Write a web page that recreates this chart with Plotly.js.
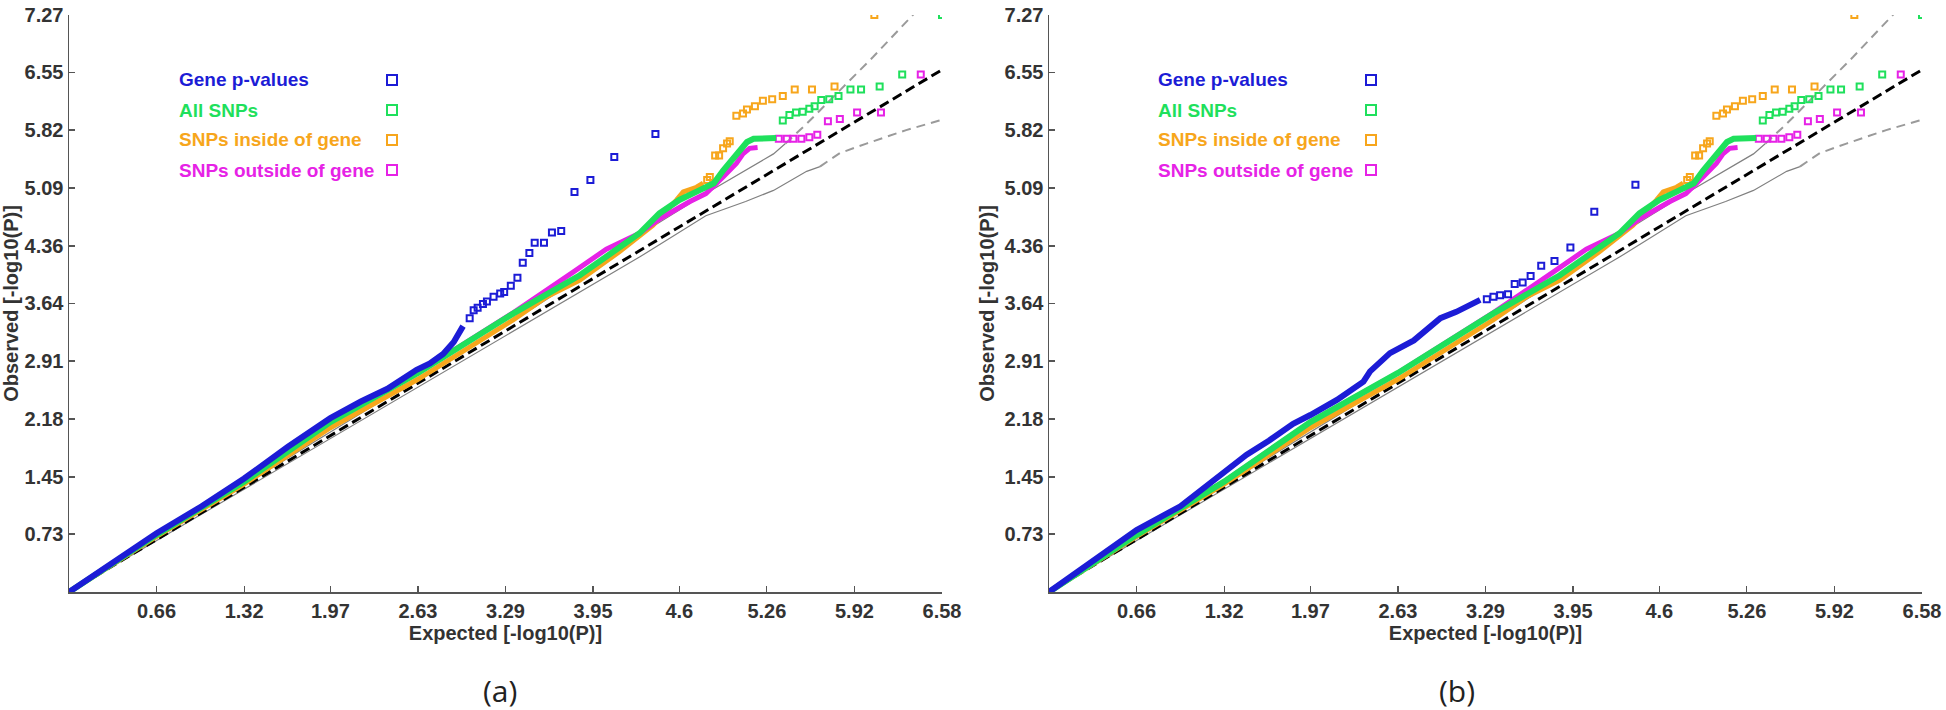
<!DOCTYPE html>
<html>
<head>
<meta charset="utf-8">
<script src="https://cdn.plot.ly/plotly-3.0.1.min.js"></script>
<style>html,body{margin:0;padding:0;background:#fff;}#chart{width:1946px;height:710px;}</style>
</head>
<body>
<div id="chart"></div>
<script>
// ---------- tick labels ----------
const xTickVals = [0.66, 1.32, 1.97, 2.63, 3.29, 3.95, 4.6, 5.26, 5.92, 6.58];
const xTickText = ['0.66', '1.32', '1.97', '2.63', '3.29', '3.95', '4.6', '5.26', '5.92', '6.58'];
const yTickVals = [0.73, 1.45, 2.18, 2.91, 3.64, 4.36, 5.09, 5.82, 6.55, 7.27];
const yTickText = ['0.73', '1.45', '2.18', '2.91', '3.64', '4.36', '5.09', '5.82', '6.55', '7.27'];

// ---------- series names ----------
const seriesNames = ['Gene p-values', 'All SNPs', 'SNPs inside of gene', 'SNPs outside of gene'];
const panelLabels = ['(a)', '(b)'];

// ---------- reference lines ----------
const diagX = [0, 6.58];
const diagY = [0, 6.58];
const ciUpperSolidX = [0, 1, 2, 3, 3.5, 4, 4.3, 4.8, 5.06, 5.31, 5.4];
const ciUpperSolidY = [0, 1.02, 2.04, 3.06, 3.58, 4.12, 4.5, 5.02, 5.27, 5.52, 5.65];
const ciUpperDashX = [5.4, 5.56, 5.81, 6.06, 6.45];
const ciUpperDashY = [5.65, 5.9, 6.32, 6.74, 7.43];
const ciLowerSolidX = [0, 1, 2, 3, 3.5, 4, 4.3, 4.8, 5.1, 5.31, 5.45, 5.56, 5.66];
const ciLowerSolidY = [0, 0.98, 1.96, 2.94, 3.43, 3.92, 4.22, 4.74, 4.92, 5.06, 5.2, 5.3, 5.36];
const ciLowerDashX = [5.66, 5.81, 6.01, 6.31, 6.56, 6.74];
const ciLowerDashY = [5.36, 5.53, 5.65, 5.82, 5.94, 6.01];

// ---------- Gene p-values, panel (a) ----------
const geneA_denseX = [0, 0.33, 0.66, 1.0, 1.32, 1.65, 1.97, 2.2, 2.4, 2.62, 2.72, 2.82, 2.9, 2.97];
const geneA_denseY = [0, 0.37, 0.74, 1.08, 1.43, 1.83, 2.19, 2.4, 2.56, 2.8, 2.88, 3.0, 3.15, 3.35];
const geneA_tailX = [3.02, 3.05, 3.08, 3.12, 3.15, 3.2, 3.25, 3.28, 3.33, 3.38, 3.42, 3.47, 3.51, 3.58, 3.64, 3.71, 3.81, 3.93, 4.11, 4.42];
const geneA_tailY = [3.45, 3.55, 3.58, 3.63, 3.66, 3.72, 3.76, 3.78, 3.86, 3.96, 4.15, 4.27, 4.4, 4.4, 4.53, 4.55, 5.04, 5.19, 5.48, 5.77];

// ---------- Gene p-values, panel (b) ----------
const geneB_denseX = [0, 0.33, 0.66, 0.99, 1.32, 1.49, 1.66, 1.84, 1.97, 2.17, 2.37, 2.42, 2.57, 2.75, 2.95, 3.07, 3.25];
const geneB_denseY = [0, 0.39, 0.78, 1.08, 1.5, 1.73, 1.91, 2.12, 2.23, 2.42, 2.65, 2.78, 3.01, 3.17, 3.45, 3.53, 3.68];
const geneB_tailX = [3.3, 3.35, 3.4, 3.46, 3.51, 3.57, 3.63, 3.71, 3.81, 3.93, 4.11, 4.42];
const geneB_tailY = [3.69, 3.72, 3.74, 3.75, 3.88, 3.9, 3.98, 4.11, 4.17, 4.34, 4.79, 5.13];

// ---------- All SNPs ----------
const allSnp_denseX = [0, 0.66, 1.32, 1.59, 1.97, 2.63, 2.8, 3.35, 3.85, 4.1, 4.3, 4.45, 4.6, 4.75, 4.86, 4.93, 5.01, 5.06, 5.11, 5.16, 5.33];
const allSnp_denseY = [0, 0.72, 1.39, 1.7, 2.14, 2.76, 2.94, 3.51, 3.99, 4.29, 4.52, 4.77, 4.94, 5.06, 5.15, 5.31, 5.48, 5.59, 5.67, 5.71, 5.72];
const allSnp_tailX = [5.38, 5.43, 5.48, 5.53, 5.58, 5.62, 5.67, 5.73, 5.8, 5.89, 5.97, 6.11, 6.28, 6.58];
const allSnp_tailY = [5.94, 6.01, 6.04, 6.05, 6.09, 6.12, 6.2, 6.21, 6.25, 6.33, 6.33, 6.37, 6.52, 7.27];

// ---------- SNPs inside of gene ----------
const inSnp_denseX = [0, 0.66, 1.32, 1.97, 2.63, 3.35, 3.6, 3.85, 4.15, 4.4, 4.58, 4.63, 4.73, 4.78];
const inSnp_denseY = [0, 0.7, 1.36, 2.07, 2.68, 3.43, 3.72, 3.93, 4.29, 4.62, 4.94, 5.04, 5.1, 5.15];
const inSnp_tailX = [4.81, 4.83, 4.87, 4.9, 4.93, 4.96, 4.98, 5.03, 5.08, 5.11, 5.17, 5.23, 5.3, 5.38, 5.47, 5.6, 5.77, 6.07];
const inSnp_tailY = [5.19, 5.23, 5.5, 5.5, 5.59, 5.65, 5.68, 6.0, 6.03, 6.08, 6.12, 6.19, 6.21, 6.25, 6.33, 6.33, 6.37, 7.27];

// ---------- SNPs outside of gene ----------
const outSnp_denseX = [0, 0.66, 1.32, 1.97, 2.63, 3.35, 3.8, 4.05, 4.3, 4.45, 4.68, 4.8, 4.93, 5.03, 5.08, 5.13, 5.19];
const outSnp_denseY = [0, 0.72, 1.39, 2.14, 2.76, 3.52, 4.03, 4.32, 4.52, 4.7, 4.92, 5.02, 5.23, 5.4, 5.52, 5.59, 5.6];
const outSnp_tailX = [5.35, 5.41, 5.46, 5.52, 5.58, 5.64, 5.72, 5.81, 5.94, 6.12, 6.42];
const outSnp_tailY = [5.71, 5.71, 5.71, 5.71, 5.73, 5.76, 5.93, 5.96, 6.04, 6.04, 6.52];

// ---------- styles ----------
const colors = ['#1c1cd6', '#1fe05c', '#f7a61c', '#e622e6'];
const tickFont = {family: 'Liberation Sans, Arial, sans-serif', size: 20, color: '#333333', weight: 'bold'};
const titleFont = {family: 'Liberation Sans, Arial, sans-serif', size: 20, color: '#333333', weight: 'bold'};

function panelTraces(xa, ya, gdX, gdY, gtX, gtY) {
  const t = [];
  const base = {xaxis: xa, yaxis: ya, showlegend: false, hoverinfo: 'skip'};
  t.push(Object.assign({x: ciUpperSolidX, y: ciUpperSolidY, mode: 'lines', line: {color: '#808080', width: 1.2}}, base));
  t.push(Object.assign({x: ciLowerSolidX, y: ciLowerSolidY, mode: 'lines', line: {color: '#808080', width: 1.2}}, base));
  t.push(Object.assign({x: ciUpperDashX, y: ciUpperDashY, mode: 'lines', line: {color: '#9a9a9a', width: 2, dash: '9px,6px'}}, base));
  t.push(Object.assign({x: ciLowerDashX, y: ciLowerDashY, mode: 'lines', line: {color: '#9a9a9a', width: 2, dash: '9px,6px'}}, base));
  t.push(Object.assign({x: diagX, y: diagY, mode: 'lines', line: {color: '#000000', width: 3, dash: '10px,5px'}}, base));
  const sets = [
    [inSnp_denseX, inSnp_denseY, inSnp_tailX, inSnp_tailY, colors[2], 5],
    [outSnp_denseX, outSnp_denseY, outSnp_tailX, outSnp_tailY, colors[3], 5],
    [allSnp_denseX, allSnp_denseY, allSnp_tailX, allSnp_tailY, colors[1], 6],
    [gdX, gdY, gtX, gtY, colors[0], 6]
  ];
  sets.forEach(s => {
    t.push(Object.assign({x: s[0], y: s[1], mode: 'lines', line: {color: s[4], width: s[5]}}, base));
    t.push(Object.assign({x: s[2], y: s[3], mode: 'markers',
      marker: {symbol: 'square-open', size: 6, color: s[4], line: {width: 2, color: s[4]}}}, base));
  });
  return t;
}

const data = [].concat(
  panelTraces('x', 'y', geneA_denseX, geneA_denseY, geneA_tailX, geneA_tailY),
  panelTraces('x2', 'y2', geneB_denseX, geneB_denseY, geneB_tailX, geneB_tailY)
);

function xAxis(domain, anchor) {
  return {
    domain: domain, anchor: anchor, range: [0, 6.58],
    showline: true, linecolor: '#555555', linewidth: 1.5, mirror: false,
    ticks: 'inside', ticklen: 6, tickwidth: 1.2, tickcolor: '#555555',
    tickvals: xTickVals, ticktext: xTickText, tickfont: tickFont,
    showgrid: false, zeroline: false, fixedrange: true,
    title: {text: 'Expected [-log10(P)]', font: titleFont, standoff: 3}
  };
}
function yAxis(domain, anchor) {
  return {
    domain: domain, anchor: anchor, range: [0, 7.27],
    showline: true, linecolor: '#555555', linewidth: 1.5, mirror: false,
    ticks: 'inside', ticklen: 6, tickwidth: 1.2, tickcolor: '#555555',
    tickvals: yTickVals, ticktext: yTickText, tickfont: tickFont,
    showgrid: false, zeroline: false, fixedrange: true,
    title: {text: 'Observed [-log10(P)]', font: titleFont, standoff: 4}
  };
}

const W = 1946, H = 710;
const legendLeft = [177, 1156];
const legendBox = [392, 1371];
const legendRows = [80, 110, 140, 170];

const annotations = [];
const shapes = [];
[0, 1].forEach(p => {
  seriesNames.forEach((name, i) => {
    annotations.push({
      xref: 'paper', yref: 'paper', x: legendLeft[p] / W, y: 1 - legendRows[i] / H,
      xanchor: 'left', yanchor: 'middle', showarrow: false, text: name,
      font: {family: 'Liberation Sans, Arial, sans-serif', size: 19, color: colors[i], weight: 'bold'}
    });
    shapes.push({
      type: 'rect', xref: 'paper', yref: 'paper',
      xsizemode: 'pixel', ysizemode: 'pixel',
      xanchor: legendBox[p] / W, yanchor: 1 - legendRows[i] / H,
      x0: -5, x1: 5, y0: -5, y1: 5,
      line: {color: colors[i], width: 2}, fillcolor: 'rgba(0,0,0,0)'
    });
  });
});
annotations.push({xref: 'paper', yref: 'paper', x: 500 / W, y: 1 - 690 / H, xanchor: 'center', yanchor: 'middle',
  showarrow: false, text: panelLabels[0], font: {family: 'Open Sans, sans-serif', size: 30, color: '#222222'}});
annotations.push({xref: 'paper', yref: 'paper', x: 1457 / W, y: 1 - 690 / H, xanchor: 'center', yanchor: 'middle',
  showarrow: false, text: panelLabels[1], font: {family: 'Open Sans, sans-serif', size: 30, color: '#222222'}});

const layout = {
  width: W, height: H,
  margin: {l: 0, r: 0, t: 0, b: 0},
  paper_bgcolor: '#ffffff', plot_bgcolor: '#ffffff',
  showlegend: false,
  xaxis: xAxis([69 / W, 942 / W], 'y'),
  yaxis: yAxis([1 - 592 / H, 1 - 15 / H], 'x'),
  xaxis2: xAxis([1049 / W, 1922 / W], 'y2'),
  yaxis2: yAxis([1 - 592 / H, 1 - 15 / H], 'x2'),
  annotations: annotations,
  shapes: shapes
};

Plotly.newPlot('chart', data, layout, {staticPlot: true, displayModeBar: false});
</script>
</body>
</html>
